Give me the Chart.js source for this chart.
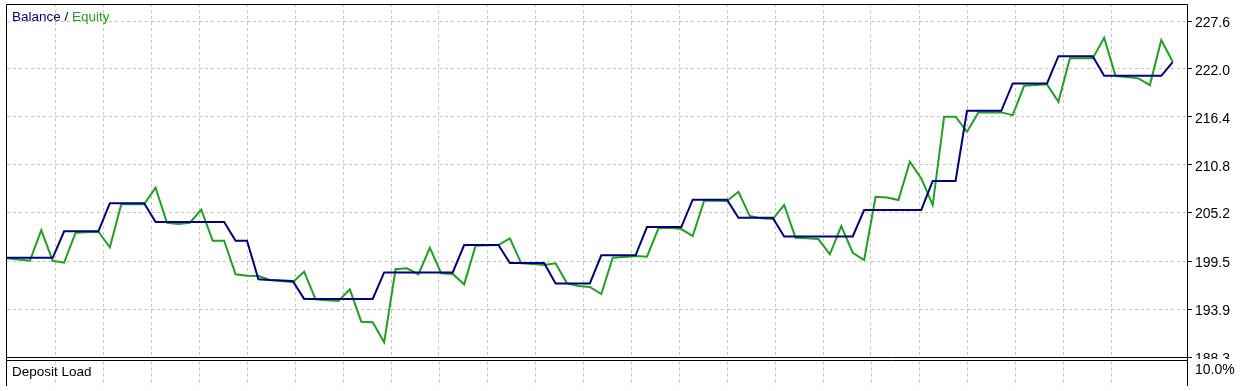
<!DOCTYPE html>
<html>
<head>
<meta charset="utf-8">
<script src="https://cdn.jsdelivr.net/npm/chart.js@4/dist/chart.umd.min.js"></script>
<style>
body { margin: 0; background: #fff; }
canvas { display: block; }
</style>
</head>
<body>
<canvas id="grafico" width="1244" height="391"></canvas>
<script>
// values, one per trade
const balance = [
  199.9, 199.9, 199.9, 199.9, 199.9,
  203.0, 203.0, 203.0, 203.0,
  206.3, 206.3, 206.3, 206.3,
  204.1, 204.1, 204.1, 204.1, 204.1, 204.1, 204.1,
  201.9, 201.9,
  197.4, 197.3, 197.25, 197.2,
  195.1, 195.1, 195.1, 195.1, 195.1, 195.1, 195.1,
  198.2, 198.2, 198.2, 198.2, 198.2, 198.2, 198.2,
  201.4, 201.4, 201.4, 201.4,
  199.3, 199.3, 199.3, 199.3,
  196.9, 196.9, 196.9, 196.9,
  200.2, 200.2, 200.2, 200.2,
  203.5, 203.5, 203.5, 203.5,
  206.7, 206.7, 206.7, 206.7,
  204.6, 204.6, 204.6, 204.6,
  202.4, 202.4, 202.4, 202.4, 202.4, 202.4, 202.4,
  205.5, 205.5, 205.5, 205.5, 205.5, 205.5,
  208.9, 208.9, 208.9,
  217.1, 217.1, 217.1, 217.1,
  220.3, 220.3, 220.3, 220.3,
  223.5, 223.5, 223.5, 223.5,
  221.2, 221.2, 221.2, 221.2, 221.2, 221.2,
  222.8
];
const equity = [
  199.84, 199.7, 199.56, 203.15, 199.56, 199.33, 202.84, 202.9, 202.96, 201.13,
  206.16, 206.16, 206.16, 208.1, 204.01, 203.86, 204.01, 205.55, 201.9, 201.9,
  197.97, 197.81, 197.77, 197.31, 197.19, 197.04, 198.28, 195.05, 194.93, 194.85,
  196.22, 192.43, 192.36, 190.02, 198.56, 198.67, 197.97, 201.08, 198.09, 198.01,
  196.8, 201.32, 201.36, 201.4, 202.18, 199.26, 199.18, 199.06, 199.26, 196.92,
  196.6, 196.49, 195.67, 199.91, 200.0, 200.11, 200.03, 203.35, 203.42, 203.27,
  202.45, 206.58, 206.57, 206.55, 207.63, 204.79, 204.52, 204.44, 206.08, 202.25,
  202.18, 202.1, 200.31, 203.62, 200.5, 199.65, 207.05, 206.96, 206.66, 211.14,
  209.2, 206.08, 216.41, 216.41, 214.65, 216.92, 216.92, 216.92, 216.6, 220.03,
  220.11, 220.2, 218.16, 223.24, 223.24, 223.24, 225.65, 221.17, 221.05, 220.9,
  220.11, 225.38, 222.84
];
const priceTicks = [188.3, 193.9, 199.5, 205.2, 210.8, 216.4, 222.0, 227.6];
const depositLoad = "10.0%";

const navy = '#000080';
const green = '#20a020';
const gridColor = '#c4c4c4';

function toPoints(arr) {
  return arr.map((v, i) => ({ x: i, y: v }));
}

// frame, lower "Deposit Load" panel and captions
const panels = {
  id: 'panels',
  afterDraw(chart) {
    const ctx = chart.ctx;
    const a = chart.chartArea;
    const xs = chart.scales.x;
    const L = a.left - 0.5, R = a.right + 0.5, B = a.bottom + 0.5;
    const end = chart.height - 5;
    ctx.save();
    ctx.fillStyle = '#fff';
    ctx.fillRect(0, a.bottom + 2, chart.width, chart.height);

    ctx.lineWidth = 1;
    ctx.strokeStyle = gridColor;
    ctx.setLineDash([3, 3]);
    xs.ticks.forEach(t => {
      const px = Math.round(xs.getPixelForValue(t.value)) + 0.5;
      ctx.beginPath();
      ctx.moveTo(px, B + 4);
      ctx.lineTo(px, end);
      ctx.stroke();
    });
    ctx.setLineDash([]);

    ctx.strokeStyle = '#000';
    ctx.beginPath();
    ctx.moveTo(L, end);
    ctx.lineTo(L, a.top + 0.5);
    ctx.lineTo(R, a.top + 0.5);
    ctx.lineTo(R, end);
    ctx.moveTo(L, B);
    ctx.lineTo(R, B);
    ctx.moveTo(L, B + 3);
    ctx.lineTo(R, B + 3);
    ctx.stroke();

    ctx.font = '13.5px "Liberation Sans"';
    ctx.textBaseline = 'middle';
    let x = a.left + 5;
    ctx.fillStyle = navy;
    ctx.fillText('Balance', x, a.top + 13);
    x += ctx.measureText('Balance ').width;
    ctx.fillStyle = '#000';
    ctx.fillText('/', x, a.top + 13);
    x += ctx.measureText('/ ').width;
    ctx.fillStyle = green;
    ctx.fillText('Equity', x, a.top + 13);

    ctx.fillStyle = '#000';
    ctx.fillText('Deposit Load', a.left + 5, B + 15);
    ctx.font = '14px "Liberation Sans"';
    ctx.fillText(depositLoad, a.right + 8, B + 13);
    ctx.restore();
  }
};

new Chart(document.getElementById('grafico'), {
  type: 'line',
  data: {
    datasets: [
      {
        label: 'Balance',
        data: toPoints(balance),
        borderColor: navy,
        borderWidth: 2,
        pointRadius: 0,
        tension: 0
      },
      {
        label: 'Equity',
        data: toPoints(equity),
        borderColor: green,
        borderWidth: 2,
        pointRadius: 0,
        tension: 0
      }
    ]
  },
  options: {
    responsive: false,
    animation: false,
    devicePixelRatio: 1,
    layout: { padding: { left: 7, top: 4, right: 0, bottom: 34 } },
    plugins: {
      legend: { display: false },
      tooltip: { enabled: false }
    },
    scales: {
      x: {
        type: 'linear',
        min: 0,
        max: 103.25,
        ticks: { display: false, stepSize: 4.2 },
        grid: { color: gridColor, drawTicks: false },
        border: { display: false, dash: [3, 3] },
        afterBuildTicks: s => {
          s.ticks = s.ticks.filter(t => t.value > 0.1 && t.value < s.max - 0.1);
        },
        afterFit: s => {
          s.height = 0;
          s.paddingLeft = 0;
          s.paddingRight = 0;
        }
      },
      y: {
        position: 'right',
        min: 188.3,
        max: 229.6,
        ticks: {
          color: '#000',
          padding: 3,
          labelOffset: 2,
          font: { family: 'Liberation Sans', size: 14 },
          callback: v => v.toFixed(1)
        },
        grid: { color: gridColor, tickColor: '#000', tickLength: 5, drawTicks: true },
        border: { display: false, dash: [3, 3] },
        afterBuildTicks: s => {
          s.ticks = priceTicks.map(v => ({ value: v }));
        },
        afterFit: s => {
          s.width = 57;
          s.paddingTop = 0;
          s.paddingBottom = 0;
        }
      }
    }
  },
  plugins: [panels]
});
</script>
</body>
</html>
